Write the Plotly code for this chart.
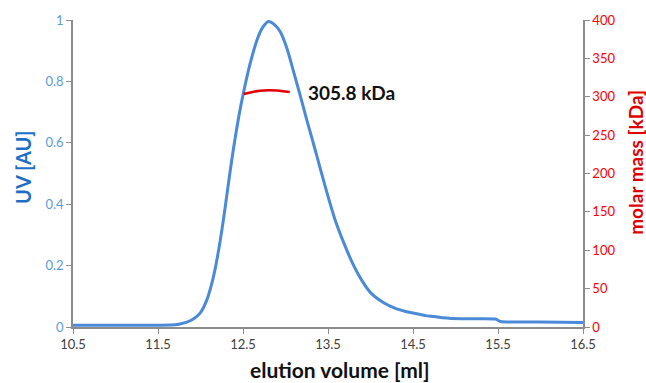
import plotly.graph_objects as go

# UV trace (elution volume [ml] vs UV [AU])
volume = [10.5, 11.0, 11.5, 11.7, 11.76, 11.84, 11.92, 12.0, 12.07, 12.135, 12.18, 12.23,
          12.27, 12.31, 12.35, 12.39, 12.45, 12.507, 12.586, 12.665, 12.73, 12.80, 12.87,
          12.94, 13.02, 13.095, 13.17, 13.25, 13.33, 13.41, 13.49, 13.58, 13.68, 13.78,
          13.88, 14.0, 14.15, 14.3, 14.47, 14.6, 14.65, 14.75, 14.85, 14.95, 15.2, 15.47,
          15.53, 16.0, 16.5]
uv = [0.006, 0.006, 0.006, 0.007, 0.010, 0.016, 0.027, 0.047, 0.085, 0.144, 0.20, 0.278,
      0.35, 0.43, 0.51, 0.585, 0.685, 0.765, 0.86, 0.935, 0.975, 0.995, 0.985,
      0.961, 0.905, 0.832, 0.757, 0.675, 0.596, 0.515, 0.435, 0.352, 0.278, 0.213,
      0.16, 0.112, 0.08, 0.06, 0.047, 0.040, 0.037, 0.034, 0.030, 0.028, 0.027, 0.026,
      0.018, 0.016, 0.015]

# Molar mass trace
mm_volume = [12.507, 12.6, 12.7, 12.8, 12.9, 13.0, 13.05]
molar_mass = [303.6, 306.0, 307.7, 308.4, 308.0, 306.8, 306.2]
mm_label = "305.8 kDa"

x_ticks = [10.5, 11.5, 12.5, 13.5, 14.5, 15.5, 16.5]

FONT = "Lato"
BLUE_LINE = "#4a8ad8"

fig = go.Figure()
fig.add_trace(go.Scatter(x=volume, y=uv, mode="lines",
                         line=dict(color=BLUE_LINE, width=3, shape="spline", smoothing=0.6),
                         showlegend=False, hoverinfo="skip"))
fig.add_trace(go.Scatter(x=mm_volume, y=molar_mass, mode="lines", yaxis="y2",
                         line=dict(color="#e00000", width=2.5, shape="spline"),
                         showlegend=False, hoverinfo="skip"))

fig.update_layout(
    width=646, height=383,
    margin=dict(l=73, r=63, t=18, b=56),
    paper_bgcolor="white", plot_bgcolor="white",
    font=dict(family=FONT),
    xaxis=dict(range=[10.5, 16.5], tickvals=x_ticks, ticktext=[str(v) for v in x_ticks],
               showgrid=False, zeroline=False, showline=True, linecolor="#8c8c8c", linewidth=1.5,
               ticks="outside", ticklen=5, tickcolor="#8c8c8c",
               tickfont=dict(size=13, color="#404040", family=FONT)),
    yaxis=dict(range=[0, 1], dtick=0.2, showgrid=False, zeroline=False, showline=True,
               linecolor="#8c8c8c", linewidth=1.5, ticks="outside", ticklen=5, tickcolor="#8c8c8c",
               tickfont=dict(size=13, color="#5b9bd5", family=FONT)),
    yaxis2=dict(range=[0, 400], dtick=50, overlaying="y", side="right", showgrid=False,
                zeroline=False, showline=True, linecolor="#8c8c8c", linewidth=1.5,
                ticks="outside", ticklen=5, tickcolor="#8c8c8c",
                tickfont=dict(size=13, color="#ff0000", family=FONT)),
)

fig.add_annotation(x=13.245, y=306, xref="x", yref="y2", text="<b>%s</b>" % mm_label,
                   showarrow=False, xanchor="left", yanchor="middle",
                   font=dict(size=19, color="#111111", family=FONT))
fig.add_annotation(x=-0.097, y=0.52, xref="paper", yref="paper", text="<b>UV [AU]</b>",
                   textangle=-90, showarrow=False, xanchor="center", yanchor="middle",
                   font=dict(size=20, color="#1f6fc8", family=FONT))
fig.add_annotation(x=1.104, y=0.535, xref="paper", yref="paper", text="<b>molar mass [kDa]</b>",
                   textangle=-90, showarrow=False, xanchor="center", yanchor="middle",
                   font=dict(size=19, color="#e00000", family=FONT))
fig.add_annotation(x=0.523, y=-0.14, xref="paper", yref="paper", text="<b>elution volume [ml]</b>",
                   showarrow=False, xanchor="center", yanchor="middle",
                   font=dict(size=21, color="#111111", family=FONT))

fig.write_html("out.html", config={"displayModeBar": False},
               post_script="document.body.style.margin='0';document.body.style.overflow='hidden';")
